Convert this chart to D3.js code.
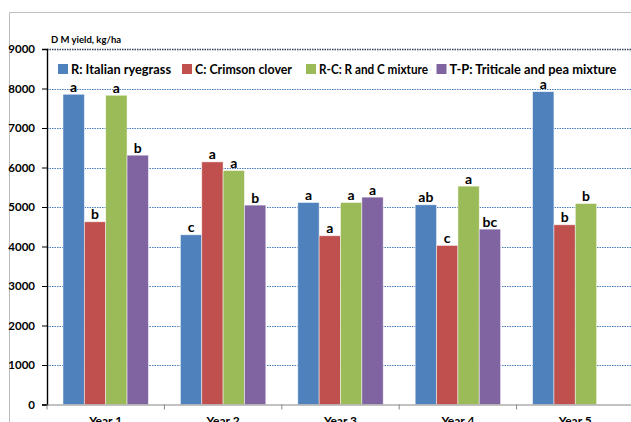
<!DOCTYPE html>
<html><head><meta charset="utf-8">
<script src="https://cdn.jsdelivr.net/npm/d3@7/dist/d3.min.js"></script>
<style>body{margin:0;background:#fff}svg{display:block}</style>
</head><body><svg id="c" width="631" height="422"></svg>
<script>
const categories = ["Year 1","Year 2","Year 3","Year 4","Year 5"];
const seriesNames = ["R: Italian ryegrass","C: Crimson clover","R-C: R and C mixture","T-P: Triticale and pea mixture"];
const seriesColors = ["#4F81BD","#C0504D","#9BBB59","#8064A2"];
const valuesR  = [7854, 4297, 5114, 5056, 7920];
const valuesC  = [4626, 6142, 4272, 4027, 4550];
const valuesRC = [7829, 5923, 5114, 5528, 5088];
const valuesTP = [6312, 5048, 5250, 4440, null];
const lettersR  = ["a","c","a","ab","a"];
const lettersC  = ["b","a","a","c","b"];
const lettersRC = ["a","a","a","a","b"];
const lettersTP = ["b","b","a","bc",null];
const yTicks = [0,1000,2000,3000,4000,5000,6000,7000,8000,9000];
const yTitle = "D M yield, kg/ha";

const values = [valuesR, valuesC, valuesRC, valuesTP];
const letters = [lettersR, lettersC, lettersRC, lettersTP];
const font = "Lato, 'Open Sans', 'Liberation Sans', sans-serif";

const svg = d3.select("#c");
const x0 = 47, bandW = 117.4, yTop = 49, yBot = 404.5;
const x = d3.scaleBand().domain(categories).range([x0, x0 + bandW*categories.length]).paddingInner(0).paddingOuter(0);
const barW = 21.35, groupOff = (x.bandwidth() - 4*barW)/2;
const y = d3.scaleLinear().domain([0, 9000]).range([yBot, yTop]);

// chart border
svg.append("path").attr("d", `M9.5,${422} V12.5 H631`).attr("fill","none").attr("stroke","#bdbdbd").attr("stroke-width",1);

// gridlines
svg.append("g").selectAll("line").data(yTicks.filter(t => t>0)).join("line")
  .attr("x1", x0).attr("x2", 631)
  .attr("y1", d => Math.round(y(d))+0.5).attr("y2", d => Math.round(y(d))+0.5)
  .attr("stroke", d => d===9000 ? "#2f3f5a" : "#4A7EBB")
  .attr("stroke-width", d => d===9000 ? 1.6 : 1)
  .attr("stroke-dasharray", "1.5,1");

// bars
categories.forEach((cat, i) => {
  values.forEach((arr, s) => {
    const v = arr[i];
    if (v == null) return;
    const bx = x(cat) + groupOff + s*barW;
    svg.append("rect").attr("x", bx).attr("y", y(v)).attr("width", barW).attr("height", yBot - y(v))
      .attr("fill", seriesColors[s]).attr("stroke", "#ffffff").attr("stroke-opacity", 0.6).attr("stroke-width", 0.8);
    svg.append("text").attr("x", bx + barW/2).attr("y", y(v) - 2.5)
      .attr("text-anchor","middle").attr("font-family", font).attr("font-weight","bold")
      .attr("font-size", 14).attr("fill","#000").text(letters[s][i]);
  });
});

// y axis
const yAxis = d3.axisLeft(y).tickValues(yTicks).tickSize(5).tickPadding(7).tickFormat(d3.format("d"));
const gy = svg.append("g").attr("transform", `translate(${x0},0)`).call(yAxis);
gy.select(".domain").attr("stroke","#000").attr("stroke-width",1.4);
gy.selectAll(".tick line").attr("stroke","#000");
gy.selectAll(".tick text").attr("font-family", font).attr("font-weight","bold").attr("font-size", 11.5).attr("fill","#000");

// x axis
const xAxis = d3.axisBottom(x).tickSize(0).tickPadding(12);
const gx = svg.append("g").attr("transform", `translate(0,${yBot})`).call(xAxis);
gx.select(".domain").attr("stroke","#868686").attr("stroke-width",1.2);
gx.selectAll(".tick text").attr("font-family", font).attr("font-weight","bold").attr("font-size", 12).attr("fill","#000");
gx.selectAll(".sep").data(d3.range(categories.length+1)).join("line").attr("class","sep")
  .attr("x1", i => x0 + i*bandW).attr("x2", i => x0 + i*bandW).attr("y1", 0).attr("y2", 5)
  .attr("stroke","#868686");

// y title
svg.append("text").attr("x", 51).attr("y", 43).attr("font-family", font).attr("font-weight","bold")
  .attr("font-size", 9.5).attr("fill","#000").text(yTitle);

// legend
const legX = [58, 182, 306, 436.5];
const legW = [100, 97, 109, 167];
const lg = svg.append("g");
seriesNames.forEach((n, i) => {
  lg.append("rect").attr("x", legX[i]).attr("y", 64).attr("width", 10).attr("height", 10).attr("fill", seriesColors[i]);
  lg.append("text").attr("x", legX[i] + 13).attr("y", 73.5).attr("font-family", font).attr("font-weight","bold")
    .attr("font-size", 13).attr("fill","#000")
    .attr("textLength", legW[i]).attr("lengthAdjust","spacingAndGlyphs").text(n);
});
</script></body></html>
